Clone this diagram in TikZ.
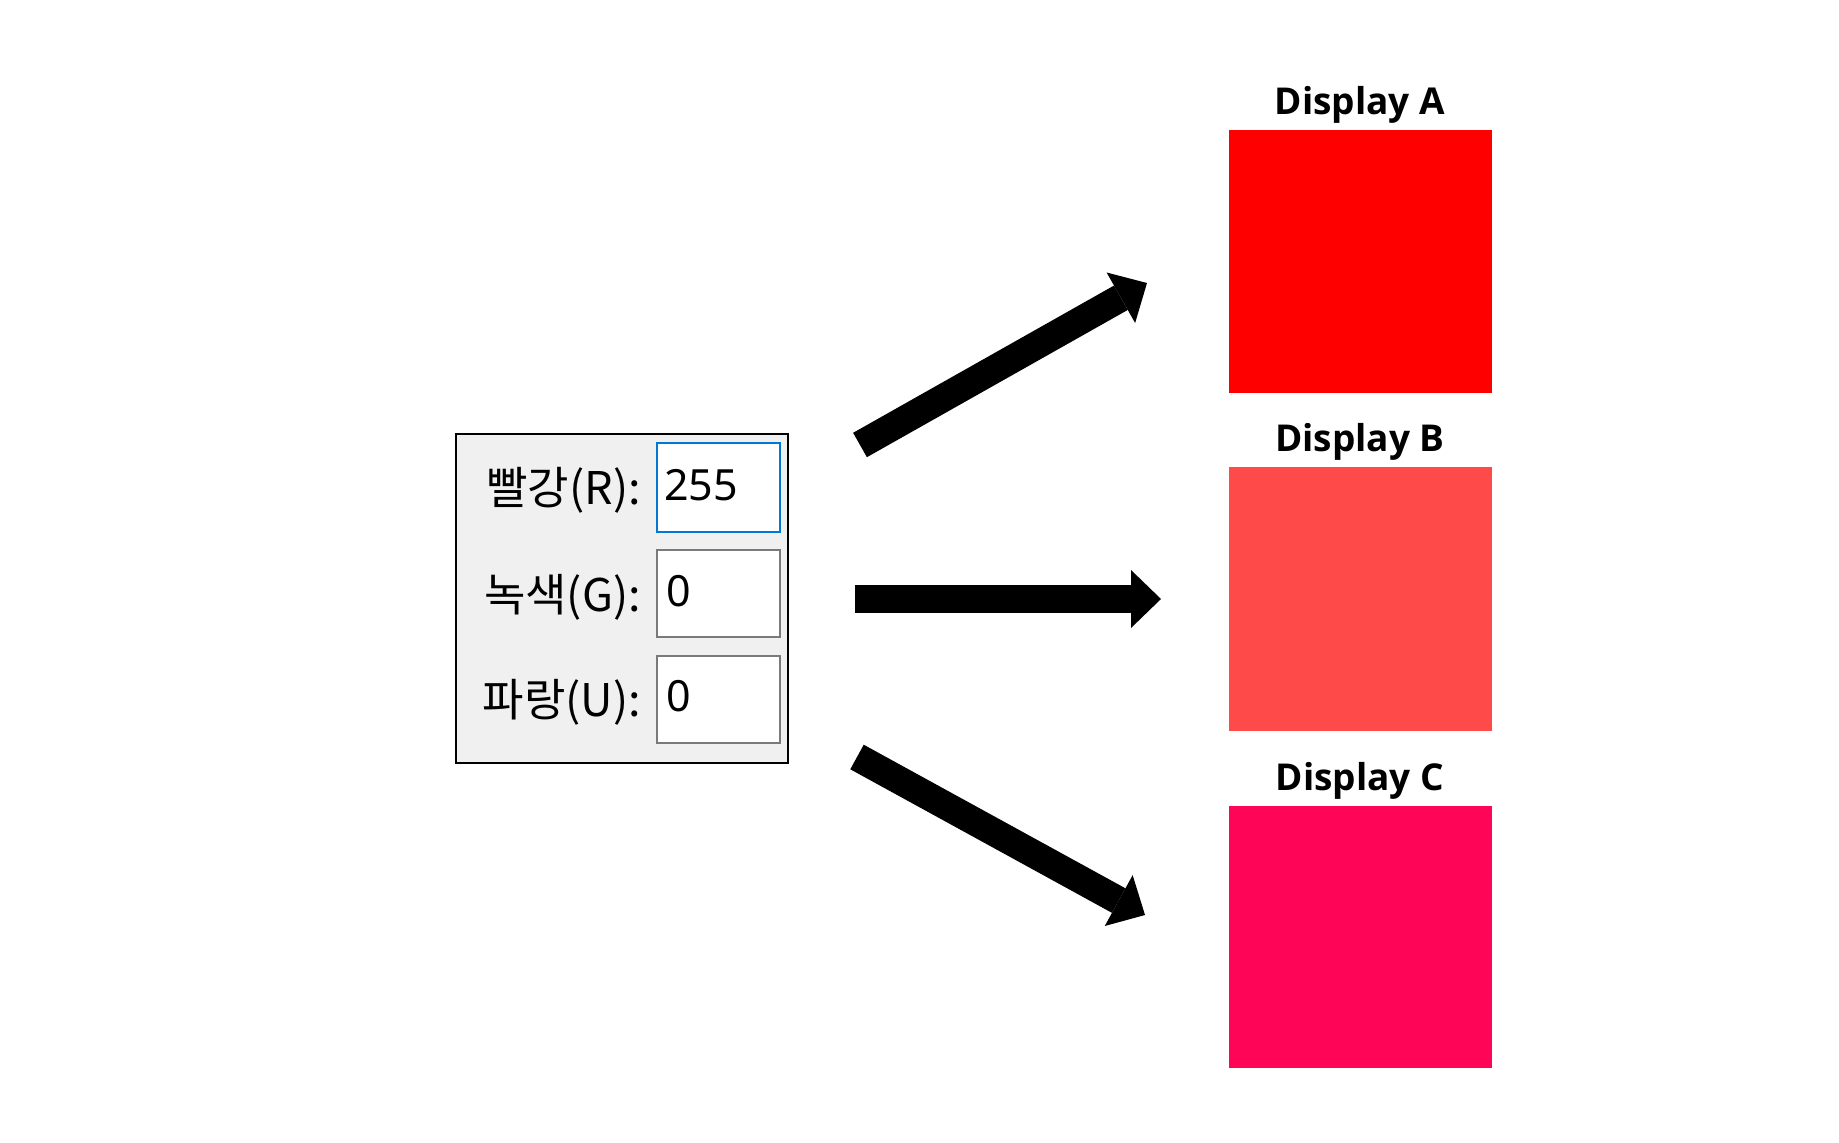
\documentclass[tikz,border=0pt]{standalone}
\usepackage{fontspec}
\setmainfont{Noto Sans}
\newfontfamily\krfont{Noto Sans CJK KR}
\newfontfamily\titlefont{Open Sans}
\usetikzlibrary{arrows.meta}
\definecolor{dlgbg}{HTML}{F0F0F0}
\definecolor{selblue}{HTML}{0078D7}
\definecolor{fieldgray}{HTML}{7A7A7A}
\definecolor{colA}{HTML}{FF0000}
\definecolor{colB}{HTML}{FF4A4A}
\definecolor{colC}{HTML}{FF0558}
\tikzset{
  field/.style={draw=fieldgray, line width=2.2pt, fill=white},
  lbl/.style={anchor=base east, inner sep=0pt, font=\krfont\fontsize{45}{54}\selectfont},
  num/.style={anchor=base west, inner sep=0pt, font=\fontsize{43}{50}\selectfont},
  title/.style={anchor=base, inner sep=0pt, font=\titlefont\bfseries\fontsize{37}{46}\selectfont},
  bigarrow/.style={line width=28pt, -{Triangle[length=30pt,width=58pt,line width=0pt]}},
}
\begin{document}
\begin{tikzpicture}[x=1pt,y=-1pt]
\useasboundingbox (0,0) rectangle (1839,1143);
% dialog
\draw[fill=dlgbg, line width=2pt] (456,434) rectangle (788,763);
\coordinate (dialog) at (622,598);
\draw[draw=selblue, line width=2.2pt, fill=white] (657,443) rectangle (780,532);
\draw[field] (657,550) rectangle (780,637);
\draw[field] (657,656) rectangle (780,743);
\node[lbl] (lR) at (641,504) {빨강(R):};
\node[lbl] (lG) at (641,611) {녹색(G):};
\node[lbl] (lU) at (641,716) {파랑(U):};
\node[num] (vR) at (664,500) {255};
\node[num] (vG) at (666,606) {0};
\node[num] (vU) at (666,711) {0};
% displays
\fill[colA] (1229,130) rectangle (1492,393);
\fill[colB] (1229,467) rectangle (1492,731);
\fill[colC] (1229,806) rectangle (1492,1068);
\node[title] (tA) at (1360,114) {Display A};
\node[title] (tB) at (1360,451) {Display B};
\node[title] (tC) at (1360,790) {Display C};
% arrows
\coordinate (a1s) at (860,445);
\coordinate (a1e) at (1147,283);
\coordinate (a2s) at (855,599);
\coordinate (a2e) at (1161,599);
\coordinate (a3s) at (857,757);
\coordinate (a3e) at (1145,915);
\draw[bigarrow] (a1s) -- (a1e);
\draw[bigarrow] (a2s) -- (a2e);
\draw[bigarrow] (a3s) -- (a3e);
\end{tikzpicture}
\end{document}
